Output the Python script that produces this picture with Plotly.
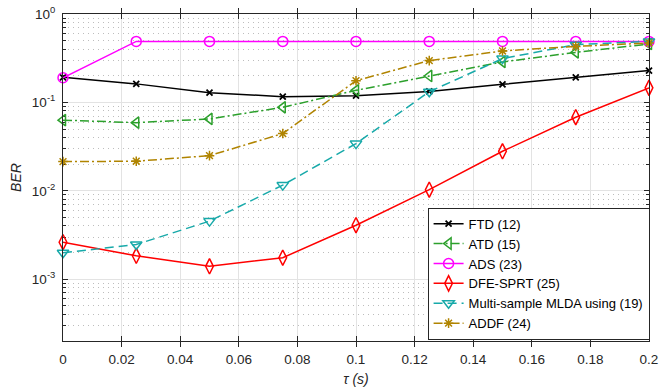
import plotly.graph_objects as go

tau = [0, 0.025, 0.05, 0.075, 0.1, 0.125, 0.15, 0.175, 0.2]

ber_ftd = [0.192, 0.162, 0.129, 0.116, 0.119, 0.133, 0.160, 0.192, 0.229]
ber_atd = [0.063, 0.059, 0.065, 0.088, 0.137, 0.199, 0.287, 0.368, 0.458]
ber_ads = [0.19, 0.49, 0.49, 0.49, 0.49, 0.49, 0.49, 0.49, 0.49]
ber_dfe = [0.00262, 0.00184, 0.00140, 0.00175, 0.00408, 0.0103, 0.028, 0.068, 0.146]
ber_mlda = [0.00199, 0.00247, 0.00454, 0.0116, 0.0342, 0.132, 0.313, 0.45, 0.49]
ber_addf = [0.0214, 0.0216, 0.025, 0.0444, 0.176, 0.297, 0.382, 0.43, 0.47]

y_tickvals = [1e-3, 1e-2, 1e-1, 1]
y_ticktext = ["10<sup>-3</sup>", "10<sup>-2</sup>", "10<sup>-1</sup>", "10<sup>0</sup>"]
y_minor_vals = [m * 10.0 ** e for e in (-4, -3, -2, -1) for m in range(2, 10)]
x_tickvals = [0, 0.02, 0.04, 0.06, 0.08, 0.1, 0.12, 0.14, 0.16, 0.18, 0.2]
x_ticktext = ["0", "0.02", "0.04", "0.06", "0.08", "0.1", "0.12", "0.14", "0.16", "0.18", "0.2"]

series = [
    ("FTD (12)", ber_ftd, "#000000", "solid", "x-thin-open", 6),
    ("ATD (15)", ber_atd, "#2ca02c", "9px,3px,2px,3px", "triangle-left-open", 10),
    ("ADS (23)", ber_ads, "#ff00ff", "solid", "circle-open", 10),
    ("DFE-SPRT (25)", ber_dfe, "#ff0000", "solid", "diamond-tall-open", 11),
    ("Multi-sample MLDA using (19)", ber_mlda, "#17a9a9", "9px,5px", "triangle-down-open", 10),
    ("ADDF (24)", ber_addf, "#b08400", "9px,3px,2px,3px", "asterisk-open", 8),
]

FONT = "Liberation Sans, Arial"
AX = "#262626"

fig = go.Figure()

# empty trace that attaches the minor-grid axis to the plot
fig.add_trace(go.Scatter(x=[], y=[], yaxis="y2", showlegend=False, hoverinfo="skip"))

for name, y, color, dash, symbol, size in series:
    fig.add_trace(go.Scatter(
        x=tau, y=y, name=name, mode="lines+markers",
        line=dict(color=color, width=1.5, dash=dash),
        marker=dict(symbol=symbol, size=size, color=color,
                    line=dict(color=color, width=1.8 if symbol == "x-thin-open" else 1.5)),
        cliponaxis=False,
    ))

fig.update_layout(
    width=659, height=387,
    margin=dict(l=63, r=10, t=14, b=46, autoexpand=False),
    plot_bgcolor="white", paper_bgcolor="white",
    xaxis=dict(
        range=[0, 0.2], tickvals=x_tickvals, ticktext=x_ticktext,
        showline=True, linecolor=AX, linewidth=1, mirror="allticks",
        ticks="inside", ticklen=5, tickcolor=AX,
        showgrid=True, gridcolor="#e3e3e3", zeroline=False,
        tickfont=dict(family=FONT, size=13.5, color=AX), ticklabelstandoff=6,
        automargin=False,
        title=dict(text="<i>τ (s)</i>", font=dict(family=FONT, size=14, color=AX), standoff=10),
    ),
    # minor decade subdivisions: dotted grid and short inside ticks
    yaxis2=dict(
        type="log", range=[-3.699, 0], overlaying="y", side="left", anchor="x",
        tickvals=y_minor_vals, showticklabels=False,
        ticks="inside", ticklen=3, tickcolor=AX, mirror="allticks",
        showline=True, linecolor=AX,
        showgrid=True, gridcolor="#bdbdbd", griddash="1px,4px", gridwidth=1,
        zeroline=False, layer="below traces", automargin=False,
    ),
    yaxis=dict(
        type="log", range=[-3.699, 0], tickvals=y_tickvals, ticktext=y_ticktext,
        showline=True, linecolor=AX, linewidth=1, mirror="allticks",
        ticks="inside", ticklen=5, tickcolor=AX,
        showgrid=True, gridcolor="#e3e3e3", zeroline=False,
        tickfont=dict(family=FONT, size=13.5, color=AX), ticklabelstandoff=4,
        automargin=False,
        title=dict(text="<i>BER</i>", font=dict(family=FONT, size=14, color=AX), standoff=6),
    ),
    legend=dict(
        x=1.001, y=0.004, xanchor="right", yanchor="bottom",
        bgcolor="white", bordercolor=AX, borderwidth=1,
        font=dict(family=FONT, size=13, color="#000000"),
        tracegroupgap=0,
    ),
    showlegend=True,
)

fig.write_html("out.html")
